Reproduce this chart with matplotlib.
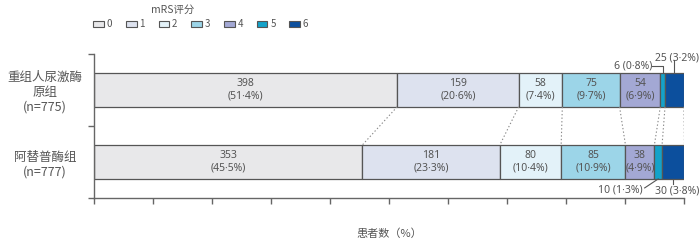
import matplotlib
matplotlib.use("Agg")
import matplotlib.pyplot as plt
from matplotlib.patches import Patch

plt.rcParams["font.family"] = ["Noto Sans CJK SC", "DejaVu Sans"]

# Data
groups = ["重组人尿激酶\n原组\n(n=775)", "阿替普酶组\n(n=777)"]
scores = ["0", "1", "2", "3", "4", "5", "6"]
counts_uk = [398, 159, 58, 75, 54, 6, 25]
pct_uk = [51.4, 20.6, 7.4, 9.7, 6.9, 0.8, 3.2]
counts_alt = [353, 181, 80, 85, 38, 10, 30]
pct_alt = [45.5, 23.3, 10.4, 10.9, 4.9, 1.3, 3.8]

colors = ["#e8e8ea", "#dde2ef", "#e3f2f9", "#9cd5e8", "#a3a8d4", "#14a2c9", "#0c4f9d"]
edge = "#555555"
txt = "#555555"
num_font = ["Noto Sans", "DejaVu Sans"]
bar_h = 0.47


def lab(c, p, sep=" "):
    return f"{c}{sep}({p:.1f}%)".replace(".", "·")


fig = plt.figure(figsize=(7, 2.44), dpi=100)
ax = fig.add_axes([0.134, 0.1885, 0.843, 0.5905])

rows = [(counts_uk, pct_uk), (counts_alt, pct_alt)]
lefts_all = []
for yi, (counts, pcts) in enumerate(rows):
    left = 0
    lefts = []
    for i, (c, p) in enumerate(zip(counts, pcts)):
        ax.barh(yi, p, left=left, height=bar_h, color=colors[i],
                edgecolor=edge, linewidth=0.9)
        if i < 5:
            ax.text(left + p / 2, yi, lab(c, p, "\n"), ha="center", va="center",
                    fontsize=7.5, color=txt, linespacing=1.2, family=num_font)
        lefts.append(left)
        left += p
    lefts.append(left)
    lefts_all.append(lefts)

# dotted connectors between matching boundaries
for b_top, b_bot in zip(lefts_all[0][1:], lefts_all[1][1:]):
    ax.plot([b_top, b_bot], [bar_h / 2, 1 - bar_h / 2], ls=(0, (1.2, 2)),
            color="#888888", lw=0.8)

# small-segment callouts, top bar
t5 = lefts_all[0][5] + pct_uk[5] / 2
t6 = lefts_all[0][6] + pct_uk[6] / 2
ax.plot([t5 - 1.8, t5, t5], [-0.33, -0.33, -bar_h / 2], color=edge, lw=0.8, clip_on=False)
ax.text(t5 - 1.8, -0.33, lab(counts_uk[5], pct_uk[5]), ha="right", va="center",
        fontsize=7.5, color=txt, family=num_font)
ax.plot([t6, t6], [-0.42, -bar_h / 2], color=edge, lw=0.8, clip_on=False)
ax.text(t5 - 1.3, -0.45, lab(counts_uk[6], pct_uk[6]), ha="left", va="center",
        fontsize=7.5, color=txt, clip_on=False, family=num_font)

# small-segment callouts, bottom bar
b5 = lefts_all[1][5] + pct_alt[5] / 2
b6 = lefts_all[1][6] + pct_alt[6] / 2
ax.plot([b5 - 2.3, b5], [1.36, 1 + bar_h / 2], color=edge, lw=0.8)
ax.text(b5 - 2.6, 1.39, lab(counts_alt[5], pct_alt[5]), ha="right", va="center",
        fontsize=7.5, color=txt, family=num_font)
ax.plot([b6, b6], [1 + bar_h / 2, 1.31], color=edge, lw=0.8)
ax.text(b5 - 0.6, 1.40, lab(counts_alt[6], pct_alt[6]), ha="left", va="center",
        fontsize=7.5, color=txt, clip_on=False, family=num_font)

ax.set_xlim(0, 100)
ax.set_ylim(1.5, -0.5)
ax.set_xticks(range(0, 101, 10))
ax.set_xticklabels([])
ax.set_yticks([0, 1])
ax.set_yticklabels(groups, ha="center", fontsize=9, color=txt, linespacing=1.2)
ax.tick_params(axis="y", which="major", length=0, pad=35)
ax.set_yticks([-0.5, 0.5, 1.5], minor=True)
ax.tick_params(axis="y", which="minor", length=4, width=1, color="#666666")
ax.tick_params(axis="x", length=4, width=1, color="#666666")
for s in ["top", "right"]:
    ax.spines[s].set_visible(False)
for s in ["left", "bottom"]:
    ax.spines[s].set_color("#666666")
    ax.spines[s].set_linewidth(1)
ax.set_xlabel("患者数（%）", fontsize=8, color=txt, labelpad=14)

handles = [Patch(facecolor=c, edgecolor=edge, linewidth=0.8) for c in colors]
fig.legend(handles, scores, loc="center left", bbox_to_anchor=(0.133, 0.90), ncol=7,
           frameon=False, fontsize=7, labelcolor=txt, handlelength=1.1, handleheight=0.7,
           handletextpad=0.3, columnspacing=1.4, borderpad=0, borderaxespad=0)
fig.text(0.246, 0.958, "mRS评分", ha="center", va="center", fontsize=7.5, color=txt)

fig.savefig("out.png", dpi=100)
